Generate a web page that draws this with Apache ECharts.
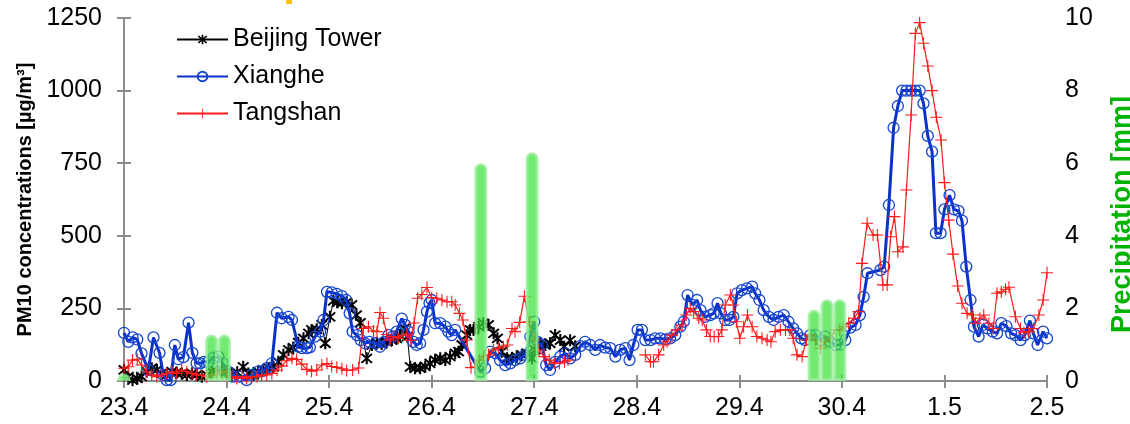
<!DOCTYPE html>
<html>
<head>
<meta charset="utf-8">
<script src="https://cdn.jsdelivr.net/npm/echarts@6/dist/echarts.min.js"></script>
<style>
  html, body { margin: 0; padding: 0; background: #fff; }
  #chart { width: 1130px; height: 424px; }
</style>
</head>
<body>
<div id="chart"></div>
<script>
// x is hours after 23.4 00:00, one label per day
const dateLabels = ['23.4', '24.4', '25.4', '26.4', '27.4', '28.4', '29.4', '30.4', '1.5', '2.5']

// Beijing Tower
const beijingHours = [0, 1, 2, 3.1, 4.1, 5.3, 6.5, 7.7, 8.8, 10, 11.2, 12.3, 13.5, 14.7, 15.9, 17, 18.2, 19.4, 20.5, 21.7, 22.9, 24, 25.2, 26.5, 27.9, 29.1, 30.3, 31.4, 32.6, 33.8, 35, 36.1, 37.3, 38.5, 39.6, 40.8, 42, 43.2, 43.9, 45.1, 46.3, 47.1, 48.2, 49, 49.9, 51, 52.1, 53.3, 54.4, 55.3, 56.8, 58, 59.2, 60.3, 61.5, 62.7, 63.8, 64.6, 65.6, 66.3, 67, 68.1, 69.3, 70.5, 71.6, 72.8, 74, 75.2, 76.3, 77.5, 78.3, 79.1, 80.2, 81, 81.8, 83, 84.1, 85.3, 86.5, 87.4, 88.4, 89.6, 90.8, 91.9, 93.1, 94.3, 95.5, 96.2, 97.4, 98.6, 99.7, 100.9, 102.1, 103, 104.4, 105.6]
const beijingValues = [38, 15, 3, 9, 15, 32, 44, 38, 26, 21, 32, 29, 26, 21, 26, 21, 15, 21, 32, 32, 38, 32, 21, 30, 49, 26, 21, 32, 38, 44, 49, 66, 90, 107, 115, 132, 147, 164, 176, 178, 193, 130, 221, 276, 271, 268, 271, 262, 227, 200, 78, 124, 132, 127, 135, 141, 147, 158, 181, 153, 49, 44, 44, 50, 61, 72, 78, 72, 84, 95, 101, 124, 158, 176, 176, 187, 199, 193, 164, 147, 101, 78, 78, 84, 90, 95, 78, 107, 130, 124, 130, 158, 141, 118, 140, 120]

// Xianghe
const xiangheHours = [0, 1, 2, 3.1, 4.1, 5.7, 6.9, 8.3, 9.2, 10, 10.9, 11.9, 12.7, 13.9, 15.1, 16, 17, 17.8, 18.7, 19.7, 20.9, 22.1, 23.1, 24.4, 25.6, 27, 28.7, 29.9, 31.4, 32.6, 33.4, 34.6, 35.8, 36.9, 38.5, 39.3, 40.8, 41.6, 42.8, 43.5, 44.7, 45.9, 46.7, 47.5, 48.6, 49.8, 51, 52, 52.8, 53.5, 54.5, 55.4, 56.4, 57.4, 58.8, 59.9, 60.9, 61.9, 62.9, 63.8, 65, 65.8, 66.6, 67.7, 68.5, 69.3, 70.1, 70.9, 71.5, 72, 72.8, 74, 75.2, 75.9, 76.7, 77.5, 83.4, 84.5, 85.7, 86.9, 88, 89.2, 90.4, 91.5, 92.7, 93.9, 95.1, 96, 96.8, 97.8, 98.8, 99.7, 100.9, 102.1, 103.3, 104.4, 105.6, 106.8, 107.9, 109.1, 110.3, 111.4, 112.6, 113.8, 115, 116.1, 117.3, 118.3, 119.2, 120.2, 121.2, 122, 123.2, 124.3, 125.5, 126.7, 127.8, 129, 130.2, 131, 131.9, 133, 134.1, 134.9, 136, 137.2, 138, 138.9, 139.7, 140.7, 141.7, 142.6, 143.5, 144.6, 145.8, 147, 147.7, 148.7, 149.7, 150.9, 152, 153.2, 154.4, 155.5, 156.6, 157.5, 158.5, 159.4, 160.6, 161.8, 163, 164.1, 165.3, 166.5, 167.6, 168.8, 170, 171.2, 172.2, 173.1, 174, 177, 177.9, 179, 180.1, 181.1, 182.1, 183.1, 184.2, 185.2, 186.2, 187.1, 188.1, 189.1, 190, 191.1, 192, 193.2, 194.2, 195.3, 196.1, 197.1, 198.1, 198.9, 200, 201, 202.1, 203.3, 204.3, 205.3, 206.5, 207.6, 208.6, 209.8, 210.8, 212, 212.8, 213.8, 215.1, 216]
const xiangheValues = [166, 135, 150, 143, 95, 38, 150, 97, 21, 3, 3, 124, 75, 82, 201, 97, 61, 61, 66, 66, 80, 84, 61, 32, 15, 15, 3, 21, 32, 35, 44, 61, 235, 216, 221, 210, 118, 113, 113, 116, 153, 170, 210, 307, 305, 300, 292, 279, 233, 170, 158, 141, 130, 135, 130, 118, 135, 158, 153, 170, 215, 193, 170, 135, 124, 130, 176, 239, 268, 279, 199, 199, 187, 170, 158, 176, 32, 44, 101, 95, 72, 55, 61, 72, 78, 90, 153, 204, 135, 124, 55, 38, 66, 84, 95, 78, 90, 120, 135, 124, 107, 124, 115, 113, 84, 107, 113, 72, 124, 176, 176, 141, 141, 147, 147, 143, 147, 158, 187, 204, 296, 262, 279, 244, 221, 227, 233, 268, 233, 210, 210, 221, 302, 313, 319, 325, 302, 279, 244, 221, 210, 221, 227, 204, 181, 164, 147, 141, 158, 158, 141, 153, 135, 124, 125, 141, 184, 193, 227, 290, 371, 382, 394, 606, 872, 947, 1000, 1000, 1000, 1000, 1000, 956, 844, 790, 509, 509, 591, 640, 591, 586, 552, 394, 279, 187, 153, 193, 181, 170, 164, 199, 189, 164, 158, 141, 158, 208, 164, 124, 170, 147]

// Tangshan (null = no data)
const tangshanHours = [0, 1, 2, 3.1, 4.1, 5.3, 6.5, 7.7, 8.8, 10, 11.2, 12.3, 13.5, 14.7, 15.9, 17, 18.2, 19.4, 20.5, 21.7, 22.9, 24, 25.2, 26.4, 27.6, 28.7, 29.9, 31.1, 32.2, 33.4, 34.6, 35.8, 36.9, 38.1, 39.3, 40.4, 41.6, 42.8, 43.9, 45.1, 46.3, 47.5, 48.6, 49.8, 51, 52.1, 53.5, 54.9, 56, 57.2, 58.4, 59.2, 59.9, 60.7, 61.5, 62.3, 63.1, 64.2, 65.4, 66.2, 67.1, 67.9, 68.7, 69.7, 70.9, 72, 73.2, 74.4, 75.6, 76.7, 77.5, 78.5, 79.3, 80.2, 81.2, 82.2, 83.2, 84.2, 85.3, 86.5, 87.6, 88.8, 89.7, 90.8, 91.5, 92.6, 93.7, 94.8, 96, 97.1, 98.3, 99.5, 100.7, 101.9, 103.1, 103.9, 112, 122, 123.2, 123.9, 125.1, 126.3, 127.1, 128.2, 129.4, 130.6, 131.6, 132.5, 133.3, 134.5, 135.3, 136.3, 137.2, 138.1, 139.1, 139.9, 140.7, 141.9, 142.6, 143.3, 144.1, 145, 145.9, 147, 148.1, 149.3, 150.5, 151.4, 152.4, 153.6, 154.8, 155.8, 156.6, 157.5, 158.7, 159.7, 160.6, 161.8, 163, 164.1, 165.3, 166.5, 167.5, 168.4, 169.6, 170.8, 171.9, 172.7, 173.9, 175.3, 176.3, 177.6, 178.6, 179.4, 180.3, 181.1, 182.3, 183.1, 184.2, 185.2, 186.2, 187.1, 188.1, 189.1, 190.1, 191.2, 192, 193, 194, 195.1, 196.1, 197.3, 198.5, 199.3, 200.3, 201.2, 202.4, 203.4, 204.3, 205.3, 206.3, 207.1, 208.6, 209.8, 210.6, 211.7, 212.8, 214.1, 215.1, 216]
const tangshanValues = [44, 49, 72, 75, 55, 32, 21, 15, 21, 26, 32, 26, 38, 32, 26, 21, 21, 15, 21, 26, 29, 32, 15, 9, 15, 9, 15, 15, 21, 21, 26, 38, 52, 70, 78, 74, 58, 40, 34, 38, 55, 60, 50, 47, 42, 36, 38, 45, 181, 187, 172, 170, 236, 216, 160, 141, 153, 147, 158, 162, 140, 200, 285, 298, 322, 287, 285, 279, 273, 273, 262, 233, 210, 141, 46, 48, 72, 84, 90, 107, 113, 118, 124, 181, 170, 202, 292, 204, 141, 107, 84, 72, 61, 61, 66, 72, null, 90, 66, 66, 90, 124, 135, 158, 176, 193, 227, 250, 239, 216, 210, 176, 153, 153, 153, 176, 262, 296, 262, 204, 147, 187, 227, 187, 153, 147, 141, 135, 170, 176, 176, 176, 147, 90, 84, 141, 158, 141, 113, 135, 147, 176, 176, 187, 199, 216, 239, 405, 543, 503, 503, 331, 331, 497, 566, 445, 462, 658, 916, 1197, 1234, 1163, 1085, 1000, 908, 830, 683, 554, 437, 327, 268, 233, 227, 199, 216, 227, 199, 181, 302, 307, 316, 323, 221, 181, 166, 170, 181, 227, 279, 373]

// Precipitation, 3-hourly
const rainHours = [0, 20.5, 23.5, 83.5, 95.5, 161.5, 164.5, 167.5]
const rainValues = [0.2, 1.28, 1.28, 6.0, 6.3, 1.97, 2.25, 2.25]

const pairs = (hs, vs) => hs.map((h, i) => [h, vs[i] === null ? '-' : vs[i]])

const font = 'Liberation Sans, Arial, sans-serif'
const axisGrey = '#8c8c8c'
const plusPath = 'path://M-1,-0.09L-0.09,-0.09L-0.09,-1L0.09,-1L0.09,-0.09L1,-0.09L1,0.09L0.09,0.09L0.09,1L-0.09,1L-0.09,0.09L-1,0.09Z'
const starPath = 'path://M-0.15,-1L0.15,-1L0.15,1L-0.15,1Z' +
    'M-0.644,-0.856L0.856,0.644L0.644,0.856L-0.856,-0.644Z' +
    'M0.856,-0.644L-0.644,0.856L-0.856,0.644L0.644,-0.856Z'

const myChart = echarts.init(document.querySelector('#chart'))
const option = {
    animation: false,
    backgroundColor: '#fff',
    textStyle: { fontFamily: font },
    grid: { left: 124, right: 83, top: 18, bottom: 43, containLabel: false, outerBoundsMode: 'none' },
    legend: {
        data: ['Beijing Tower', 'Xianghe', 'Tangshan'],
        orient: 'vertical',
        left: 171,
        top: 22,
        itemWidth: 51,
        itemHeight: 12,
        itemGap: 12,
        itemTextGap: 7,
        textStyle: { fontSize: 25, color: '#000', fontFamily: font }
    },
    xAxis: [{
        type: 'value',
        min: 0,
        max: 216,
        interval: 24,
        position: 'bottom',
        axisLine: { show: true, lineStyle: { color: axisGrey, width: 2 } },
        axisTick: { show: true, length: 7, lineStyle: { color: axisGrey, width: 2 } },
        axisLabel: {
            formatter: v => dateLabels[Math.round(v / 24)],
            fontSize: 25,
            color: '#000',
            margin: 15
        },
        splitLine: { show: false }
    }, {
        type: 'value',
        min: 0,
        max: 216,
        interval: 24,
        position: 'top',
        axisLine: { show: true, lineStyle: { color: axisGrey, width: 2 } },
        axisTick: { show: true, length: 6, lineStyle: { color: axisGrey, width: 2 } },
        axisLabel: { show: false },
        splitLine: { show: false }
    }],
    yAxis: [{
        type: 'value',
        min: 0,
        max: 1250,
        interval: 250,
        position: 'left',
        name: 'PM10 concentrations [µg/m³]',
        nameLocation: 'middle',
        nameGap: 89,
        nameRotate: 90,
        nameTextStyle: { fontSize: 20, fontWeight: 'bold', color: '#000' },
        axisLine: { show: true, lineStyle: { color: axisGrey, width: 2 } },
        axisTick: { show: true, length: 7, lineStyle: { color: axisGrey, width: 2 } },
        axisLabel: { fontSize: 25, color: '#000', margin: 22, formatter: v => String(v) },
        splitLine: { show: false }
    }, {
        type: 'value',
        min: 0,
        max: 10,
        interval: 2,
        position: 'right',
        name: 'Precipitation [mm]',
        nameLocation: 'middle',
        nameGap: 62,
        nameRotate: 90,
        nameTextStyle: { fontSize: 27, fontWeight: 'bold', color: '#00b300', padding: [0, 30, 0, 0] },
        axisLine: { show: true, lineStyle: { color: axisGrey, width: 2 } },
        axisTick: { show: true, length: 7, lineStyle: { color: axisGrey, width: 2 } },
        axisLabel: { fontSize: 25, color: '#000', margin: 18, formatter: v => String(v) },
        splitLine: { show: false }
    }],
    series: [
        {
            name: 'Beijing Tower',
            type: 'line',
            data: pairs(beijingHours, beijingValues),
            symbol: starPath,
            symbolSize: 12,
            lineStyle: { color: '#000', width: 1 },
            itemStyle: { color: '#000' },
            z: 3
        },
        {
            name: 'Xianghe',
            type: 'line',
            data: pairs(xiangheHours, xiangheValues),
            symbol: 'circle',
            symbolSize: 11,
            lineStyle: { color: '#0a32c8', width: 3 },
            itemStyle: { color: 'rgba(0,0,0,0)', borderColor: '#1545d0', borderWidth: 1.3 },
            z: 4
        },
        {
            name: 'Tangshan',
            type: 'line',
            data: pairs(tangshanHours, tangshanValues),
            symbol: plusPath,
            symbolSize: 12,
            connectNulls: false,
            lineStyle: { color: '#ff1a1a', width: 1.2 },
            itemStyle: { color: '#ff1a1a' },
            z: 5
        },
        {
            name: 'Precipitation',
            type: 'bar',
            xAxisIndex: 0,
            yAxisIndex: 1,
            data: pairs(rainHours, rainValues),
            barWidth: 13,
            barMinWidth: 13,
            barMaxWidth: 13,
            clip: true,
            itemStyle: {
                color: 'rgba(60,226,60,0.72)',
                borderColor: 'rgba(150,238,150,0.75)',
                borderWidth: 3,
                borderRadius: [5, 5, 0, 0]
            },
            z: 10
        }
    ],
    graphic: [{
        type: 'rect',
        shape: { x: 286, y: 0, width: 6, height: 4 },
        style: { fill: '#ffc000' }
    }]
}
myChart.setOption(option)
window.addEventListener('resize', function () {
    myChart.resize()
})
</script>
</body>
</html>
